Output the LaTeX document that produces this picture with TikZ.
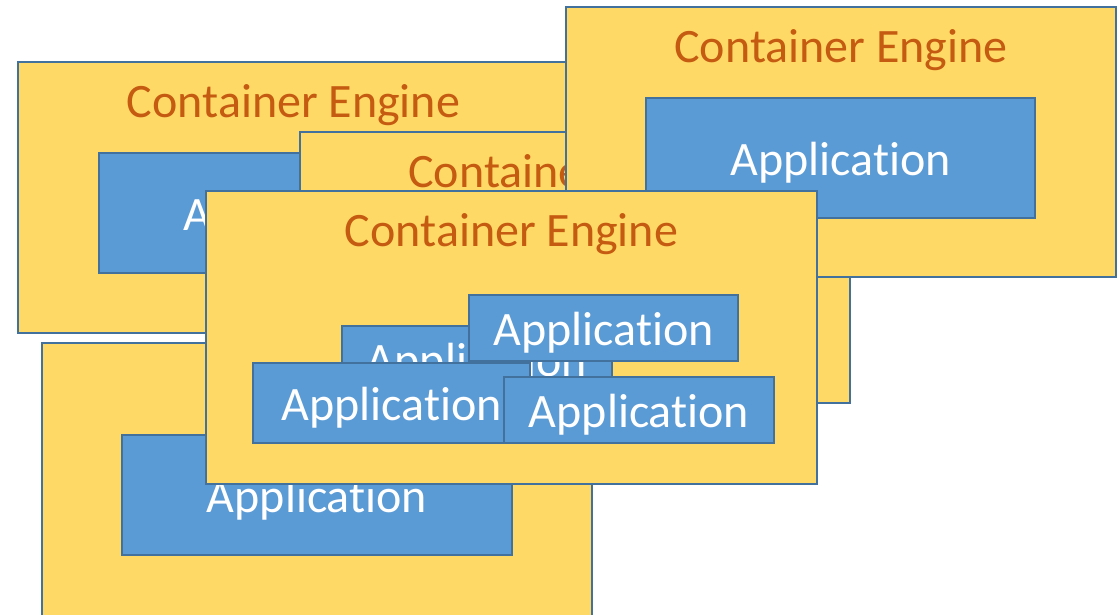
\documentclass[tikz,border=0pt]{standalone}
\usepackage{fontspec}
\setmainfont{Carlito}[Ligatures=NoCommon]
\definecolor{engfill}{HTML}{FFD966}
\definecolor{appfill}{HTML}{5B9BD5}
\definecolor{edge}{HTML}{41719C}
\definecolor{titlecol}{HTML}{C55A11}
\tikzset{
  container/.style={draw=edge, fill=engfill, line width=2pt, inner sep=0pt, rectangle},
  appbox/.style={draw=edge, fill=appfill, line width=2pt, inner sep=0pt, rectangle,
    text=white, font=\fontsize{48}{56}\selectfont, text height=34pt, text depth=0pt},
  title/.style={text=titlecol, font=\fontsize{48}{56}\selectfont, inner sep=0pt, anchor=base}
}
\begin{document}
\begin{tikzpicture}[x=1pt,y=-1pt]
\useasboundingbox (0,0) rectangle (1120,614);
% container 1 (top left)
\node[container, minimum width=551pt, minimum height=271pt] (c1) at (293.5,197.5) {};
\node[title] (t1) at (293.5,117) {Container Engine};
\node[appbox, minimum width=389pt, minimum height=120pt] (a1) at (293.5,213) {Application};
% container 3 (middle, behind)
\node[container, minimum width=550pt, minimum height=271pt] (c3) at (575,267.5) {};
\node[title] (t3) at (575,187) {Container Engine};
% container 2 (top right)
\node[container, minimum width=550pt, minimum height=270pt] (c2) at (841,142) {};
\node[title] (t2) at (841,62) {Container Engine};
\node[appbox, minimum width=389pt, minimum height=120pt] (a2) at (840.5,158) {Application};
% container 4 (bottom left)
\node[container, minimum width=550pt, minimum height=280pt] (c4) at (317,483) {};
\node[appbox, minimum width=390pt, minimum height=120pt] (a4) at (317,495) {Application};
% container 5 (front)
\node[container, minimum width=611pt, minimum height=293pt] (c5) at (511.5,337.5) {};
\node[title] (t5) at (511.5,246) {Container Engine};
\node[appbox, minimum width=270pt, minimum height=66pt] (a5b) at (477,359) {Application};
\node[appbox, minimum width=269pt, minimum height=66pt] (a5t) at (603.5,328) {Application};
\node[appbox, minimum width=277pt, minimum height=80pt] (a5l) at (391.5,403) {Application};
\node[appbox, minimum width=270pt, minimum height=66pt] (a5r) at (639,410) {Application};
\end{tikzpicture}
\end{document}
